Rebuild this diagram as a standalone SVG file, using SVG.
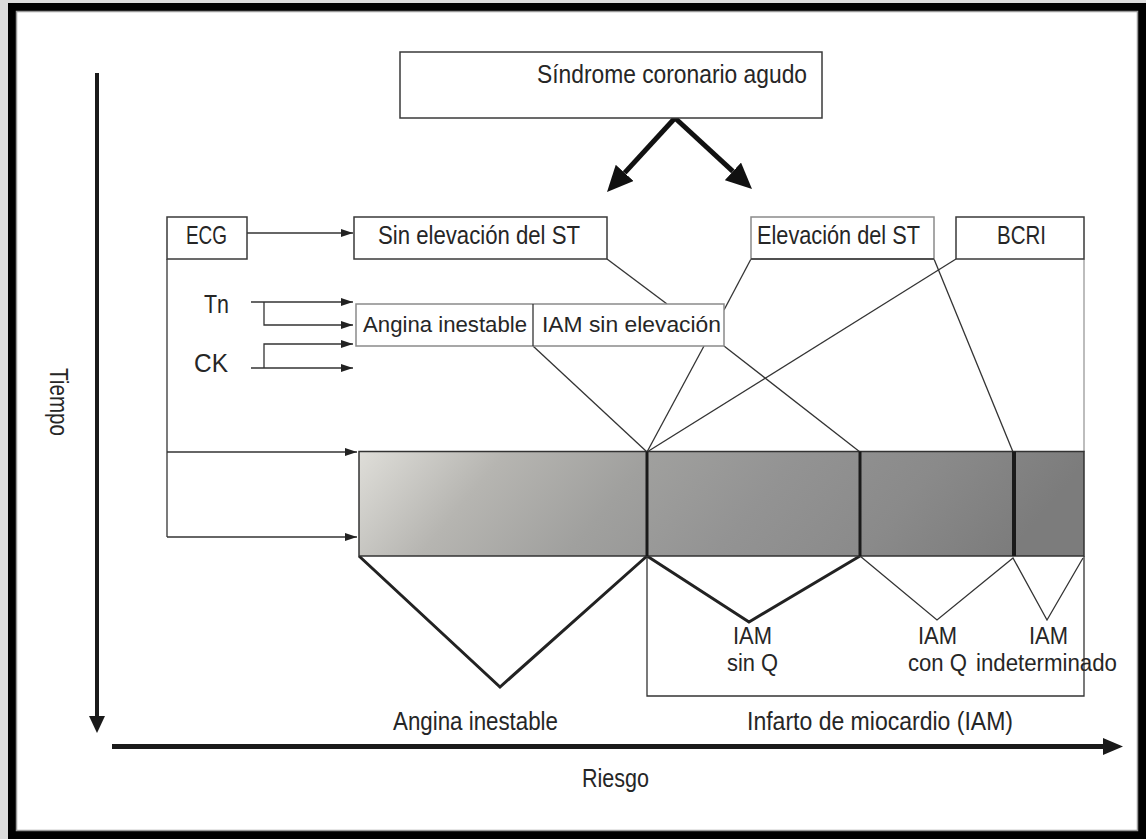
<svg xmlns="http://www.w3.org/2000/svg" width="1146" height="839" viewBox="0 0 1146 839">
<style>
  text{font-family:"Liberation Sans",Arial,sans-serif;font-size:25px;fill:#262626}
  .sm{font-size:22px}
  .lab{font-size:23px}
  .box{fill:#fff;stroke:#3a3a3a;stroke-width:1.5}
  .boxg{fill:#fff;stroke:#8a8a8a;stroke-width:1.5}
  .ln{fill:none;stroke:#333;stroke-width:1.3}
  .thick{fill:none;stroke:#222;stroke-width:3;stroke-linejoin:miter}
</style>
<defs>
  <marker id="arr" viewBox="0 0 12 8" refX="12" refY="4" markerWidth="12" markerHeight="8" markerUnits="userSpaceOnUse" orient="auto">
    <path d="M0,0 L12,4 L0,8 z" fill="#222"/>
  </marker>
  <marker id="big" viewBox="0 0 26 24" refX="0" refY="12" markerWidth="26" markerHeight="24" markerUnits="userSpaceOnUse" orient="auto">
    <path d="M0,0 L26,12 L0,24 z" fill="#111"/>
  </marker>
  <linearGradient id="bar" x1="0" y1="0" x2="1" y2="0.12">
    <stop offset="0" stop-color="#dfded9"/>
    <stop offset="0.2" stop-color="#b6b5b1"/>
    <stop offset="0.4" stop-color="#a0a09e"/>
    <stop offset="0.6" stop-color="#939393"/>
    <stop offset="0.8" stop-color="#8a8a8a"/>
    <stop offset="1" stop-color="#7c7c7c"/>
  </linearGradient>
</defs>

<!-- frame -->
<rect x="0" y="0" width="1146" height="839" fill="#dcdcdc"/>
<rect x="8" y="3" width="1138" height="836" fill="#000"/>
<rect x="16.5" y="11.5" width="1121" height="819" fill="#fff" stroke="#999" stroke-width="1.5"/>

<!-- axes -->
<g id="axis-tiempo">
  <line x1="97" y1="73" x2="97" y2="718" stroke="#1a1a1a" stroke-width="4"/>
  <polygon points="89,716 105,716 97,733" fill="#1a1a1a"/>
  <text transform="translate(50,368) rotate(90)" x="0" y="0" textLength="68" lengthAdjust="spacingAndGlyphs">Tiempo</text>
</g>
<g id="axis-riesgo">
  <line x1="112" y1="746.5" x2="1105" y2="746.5" stroke="#1a1a1a" stroke-width="5"/>
  <polygon points="1103,738 1123,746.5 1103,755" fill="#1a1a1a"/>
  <text x="582" y="787" textLength="67" lengthAdjust="spacingAndGlyphs">Riesgo</text>
</g>

<!-- connectors -->
<g id="connectors">
  <line x1="675" y1="118" x2="624.6" y2="172.9" stroke="#111" stroke-width="5" marker-end="url(#big)"/>
  <line x1="675" y1="118" x2="732.9" y2="171.4" stroke="#111" stroke-width="5" marker-end="url(#big)"/>
  <line class="ln" x1="247" y1="233" x2="353" y2="233" marker-end="url(#arr)"/>
  <polyline class="ln" points="167,259 167,537"/>
  <line class="ln" x1="167" y1="452" x2="357" y2="452" marker-end="url(#arr)"/>
  <line class="ln" x1="167" y1="537" x2="357" y2="537" marker-end="url(#arr)"/>
  <line class="ln" x1="251" y1="302" x2="353" y2="302" marker-end="url(#arr)"/>
  <polyline class="ln" points="264,302 264,325 353,325" marker-end="url(#arr)"/>
  <line class="ln" x1="251" y1="368" x2="353" y2="368" marker-end="url(#arr)"/>
  <polyline class="ln" points="264,368 264,344 353,344" marker-end="url(#arr)"/>
  <line class="ln" x1="607" y1="259" x2="667" y2="304"/>
  <line class="ln" x1="751" y1="259" x2="724" y2="310"/>
  <line class="ln" x1="934" y1="259" x2="1013" y2="452"/>
  <line class="ln" x1="956" y1="259" x2="647" y2="452"/>
  <line class="ln" x1="533" y1="346" x2="647" y2="452"/>
  <line class="ln" x1="704" y1="346" x2="647" y2="452"/>
  <line class="ln" x1="724" y1="346" x2="860" y2="452"/>
  <line x1="1084" y1="259" x2="1084" y2="452" stroke="#bdbdbd" stroke-width="2"/>
  <polyline class="thick" points="359,556 500,687 647,556"/>
  <polyline class="thick" points="647,556 749,622 860,556"/>
  <polyline class="ln" points="860,556 937,620 1013,558 1047,620 1083,558"/>
  <polyline class="ln" points="647,556 647,696 1084,696 1084,556"/>
</g>

<!-- nodes -->
<g id="sca">
  <rect class="box" x="400" y="52" width="422" height="66"/>
  <text x="537" y="83" textLength="270" lengthAdjust="spacingAndGlyphs">Síndrome coronario agudo</text>
</g>
<g id="ecg">
  <rect class="box" x="167" y="217" width="80" height="42"/>
  <text x="186" y="244" textLength="41" lengthAdjust="spacingAndGlyphs">ECG</text>
</g>
<g id="sin-elevacion-st">
  <rect class="box" x="354" y="217" width="253" height="42"/>
  <text x="378" y="244" textLength="202" lengthAdjust="spacingAndGlyphs">Sin elevación del ST</text>
</g>
<g id="elevacion-st">
  <rect class="boxg" x="751" y="217" width="183" height="42"/>
  <line x1="751" y1="259" x2="934" y2="259" stroke="#333" stroke-width="1.5"/>
  <text x="757" y="244" textLength="163" lengthAdjust="spacingAndGlyphs">Elevación del ST</text>
</g>
<g id="bcri">
  <rect class="box" x="956" y="217" width="128" height="42"/>
  <text x="997" y="244" textLength="49" lengthAdjust="spacingAndGlyphs">BCRI</text>
</g>
<g id="tn">
  <text x="204" y="313" textLength="25" lengthAdjust="spacingAndGlyphs">Tn</text>
</g>
<g id="ck">
  <text x="194" y="372" textLength="34" lengthAdjust="spacingAndGlyphs">CK</text>
</g>
<g id="angina-iam-box">
  <rect class="boxg" x="356" y="304" width="368" height="42"/>
  <line x1="533" y1="304" x2="533" y2="346" stroke="#333" stroke-width="1.3"/>
  <text class="sm" x="363" y="332" textLength="164" lengthAdjust="spacingAndGlyphs">Angina inestable</text>
  <text class="sm" x="542" y="332" textLength="179" lengthAdjust="spacingAndGlyphs">IAM sin elevación</text>
</g>
<g id="riesgo-bar">
  <rect x="359" y="451.5" width="725" height="104.5" fill="url(#bar)" stroke="#333" stroke-width="1.5"/>
  <line x1="647" y1="451.5" x2="647" y2="556" stroke="#1a1a1a" stroke-width="3"/>
  <line x1="860" y1="451.5" x2="860" y2="556" stroke="#1a1a1a" stroke-width="3"/>
  <line x1="1014" y1="451.5" x2="1014" y2="556" stroke="#1a1a1a" stroke-width="4"/>
</g>
<g id="iam-sin-q">
  <text class="lab" x="733" y="644" textLength="39" lengthAdjust="spacingAndGlyphs">IAM</text>
  <text class="lab" x="727" y="671" textLength="51" lengthAdjust="spacingAndGlyphs">sin Q</text>
</g>
<g id="iam-con-q">
  <text class="lab" x="918" y="644" textLength="39" lengthAdjust="spacingAndGlyphs">IAM</text>
  <text class="lab" x="908" y="671" textLength="59" lengthAdjust="spacingAndGlyphs">con Q</text>
</g>
<g id="iam-indeterminado">
  <text class="lab" x="1029" y="644" textLength="39" lengthAdjust="spacingAndGlyphs">IAM</text>
  <text class="lab" x="976" y="671" textLength="141" lengthAdjust="spacingAndGlyphs">indeterminado</text>
</g>
<g id="angina-inestable">
  <text x="393" y="730" textLength="165" lengthAdjust="spacingAndGlyphs">Angina inestable</text>
</g>
<g id="infarto">
  <text x="747" y="730" textLength="266" lengthAdjust="spacingAndGlyphs">Infarto de miocardio (IAM)</text>
</g>
</svg>
